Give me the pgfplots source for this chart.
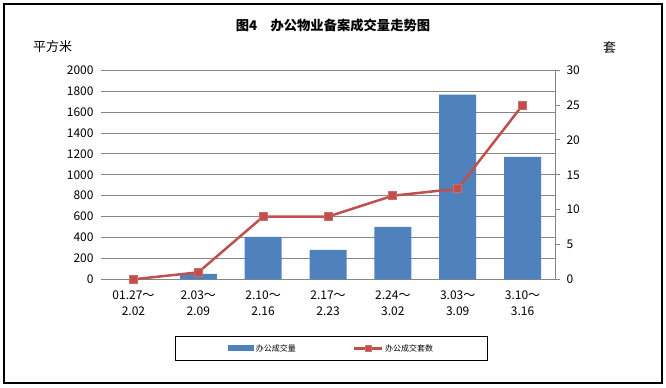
\documentclass[border=0pt]{standalone}
\usepackage{pgfplots}
\pgfplotsset{compat=1.18}
\usepackage{fontspec}
\setmainfont{Noto Sans CJK SC}
\definecolor{barblue}{HTML}{4F81BD}
\definecolor{linered}{HTML}{C0504D}
\definecolor{markedge}{HTML}{D06A67}
\definecolor{gridgray}{HTML}{868686}
\pgfplotsset{my line legend/.style={legend image code/.code={\draw[mark repeat=2,mark phase=2,mark size=3bp,##1] plot coordinates {(0bp,0bp) (14bp,0bp) (28bp,0bp)};}}}
\begin{document}
\begin{tikzpicture}[x=1bp,y=1bp]
\path (0,0) rectangle (666,387);
\draw[line width=1.3bp] (4,4) rectangle (662,383);
\node[font=\fontsize{13.3bp}{15bp}\selectfont\bfseries] at (333,362) {图4\quad 办公物业备案成交量走势图};
\node[font=\fontsize{13bp}{15bp}\selectfont] at (52.5,340) {平方米};
\node[font=\fontsize{13bp}{15bp}\selectfont] at (609.5,339) {套};
\begin{axis}[
  at={(101bp,107.7bp)}, anchor=south west,
  scale only axis, width=454bp, height=209bp,
  xmin=-0.5, xmax=6.5, ymin=0, ymax=2000,
  ytick={0,200,...,2000},
  xtick={0,...,6},
  xticklabels={{01.27～\\2.02},{2.03～\\2.09},{2.10～\\2.16},{2.17～\\2.23},{2.24～\\3.02},{3.03～\\3.09},{3.10～\\3.16}},
  xticklabel style={align=center, font=\fontsize{12bp}{16bp}\selectfont, yshift=-7.5bp},
  yticklabel style={font=\fontsize{12bp}{13bp}\selectfont, xshift=-4bp},
  /pgf/number format/assume math mode=true,
  /pgf/number format/set thousands separator={},
  axis y line*=left, axis x line*=bottom,
  y axis line style={draw=none},
  x axis line style={draw=gridgray, line width=1bp, -},
  ymajorgrids, grid style={gridgray, line width=1bp},
  major tick length=0, tick style={draw=none},
  ybar, bar width=37bp,
]
\addplot[fill=barblue, draw=none] coordinates {(0,0) (1,51) (2,405) (3,281) (4,501) (5,1767) (6,1171)};
\end{axis}
\begin{axis}[
  at={(101bp,107.7bp)}, anchor=south west,
  scale only axis, width=454bp, height=209bp,
  xmin=-0.5, xmax=6.5, ymin=0, ymax=30,
  ytick={0,5,...,30},
  axis x line=none, axis y line*=right,
  y axis line style={draw=gridgray, line width=1bp, -},
  tick style={draw=gridgray, line width=1bp},
  tick align=outside, major tick length=5bp,
  yticklabel style={font=\fontsize{12bp}{13bp}\selectfont, xshift=3bp},
  /pgf/number format/assume math mode=true,
  clip=false,
  legend columns=2,
  legend style={at={(0.5077,-0.331)}, anchor=center, draw=black, line width=1bp,
    font=\fontsize{8bp}{10bp}\selectfont, inner xsep=52bp, inner ysep=6bp,
    /tikz/every even column/.append style={column sep=55bp}},
]
\addlegendimage{legend image code/.code={\fill[barblue] (0bp,-2.5bp) rectangle (25bp,2.5bp);}}
\addlegendentry{办公成交量}
\addplot[linered, line width=2.5bp, mark=square*, mark size=4bp,
  mark options={fill=linered, draw=markedge, line width=1bp}, my line legend]
  coordinates {(0,0) (1,1) (2,9) (3,9) (4,12) (5,13) (6,25)};
\addlegendentry{办公成交套数}
\end{axis}
\end{tikzpicture}
\end{document}
